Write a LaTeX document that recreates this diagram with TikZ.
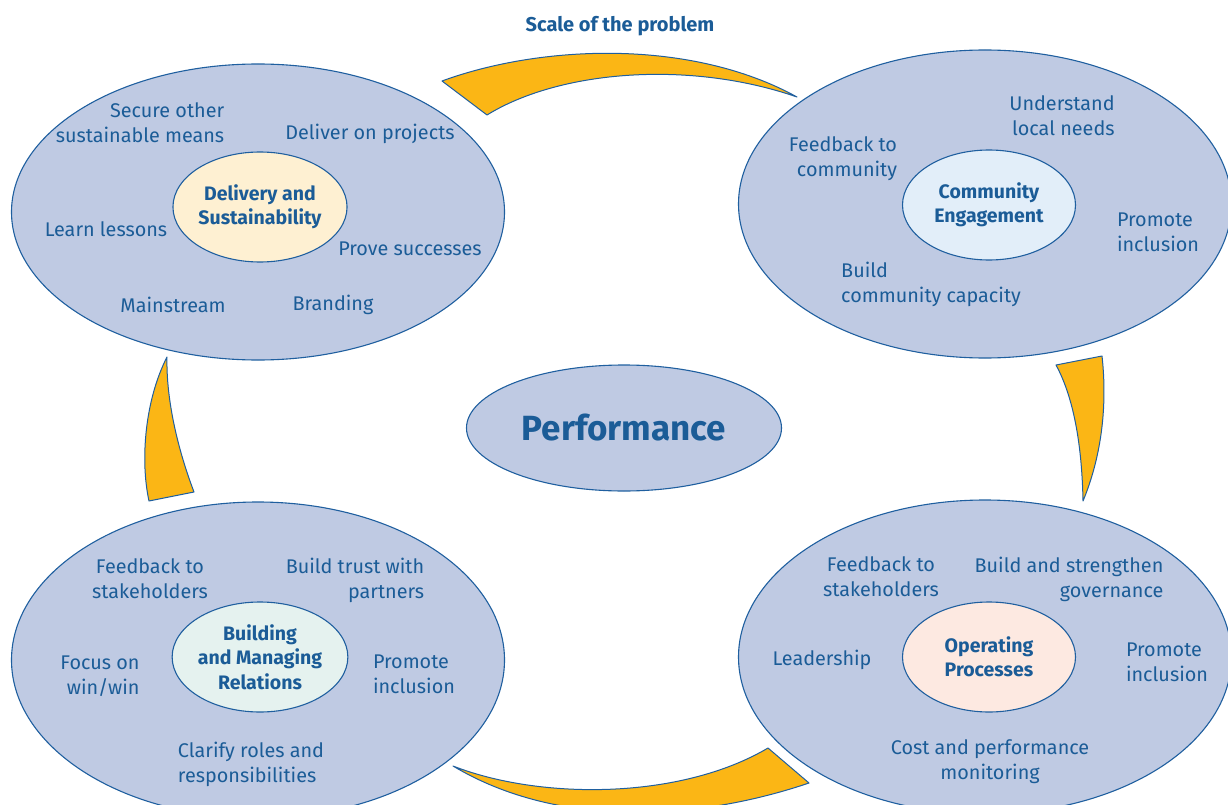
\documentclass[tikz,border=0pt]{standalone}
\usepackage{fontspec}
\setmainfont{Fira Sans}
\usetikzlibrary{shapes.geometric}
\definecolor{ringblue}{HTML}{BFCAE3}
\definecolor{edgeblue}{HTML}{1F5F9F}
\definecolor{textblue}{HTML}{1B5C97}
\definecolor{arrowgold}{HTML}{FBB615}
\definecolor{creamfill}{HTML}{FEF0D2}
\definecolor{skyfill}{HTML}{E2EEF9}
\definecolor{mintfill}{HTML}{E5F2EF}
\definecolor{peachfill}{HTML}{FDE9E1}

\begin{document}
\begin{tikzpicture}[x=1pt, y=-1pt,
  ring/.style={ellipse, draw=edgeblue, line width=1.1pt, fill=ringblue, minimum width=493pt, minimum height=300pt, inner sep=0pt},
  hub/.style={ellipse, draw=edgeblue, line width=1.1pt, minimum width=173pt, minimum height=110pt, inner sep=0pt,
    font=\fontsize{19.5}{24.5}\selectfont\bfseries, text=textblue, align=center},
  lbl/.style={font=\fontsize{19.8}{25}\selectfont, text=textblue, align=center, inner sep=0pt, yshift=-2pt},
  turn/.style={draw=edgeblue, line width=1pt, fill=arrowgold, line join=round}]
\useasboundingbox (0,0) rectangle (1228,805);
\clip (0,0) rectangle (1228,805);

% outer rings
\node[ring, minimum height=296pt] (deliv) at (258,212) {};
\node[ring, minimum height=308pt] (comm) at (985,204) {};
\node[ring, minimum height=316pt] (relat) at (258,660) {};
\node[ring, minimum height=314pt] (oper) at (985,657) {};
\node[ellipse, draw=edgeblue, line width=1.1pt, fill=ringblue, minimum width=315pt, minimum height=126pt, inner sep=0pt,
  font=\fontsize{35}{40}\selectfont\bfseries, text=textblue] (perf) at (624,428) {Performance};

% hubs
\node[hub, fill=creamfill] (delivhub) at (260,207) {Delivery and\\Sustainability};
\node[hub, fill=skyfill] (commhub) at (989,205) {Community\\Engagement};
\node[hub, fill=mintfill] (relathub) at (260,657) {Building\\and Managing\\Relations};
\node[hub, fill=peachfill] (operhub) at (989,657) {Operating\\Processes};

% delivery labels
\node[lbl, align=right] (secure) at (140,121) {Secure other\\sustainable means};
\node[lbl] (projects) at (370,132) {Deliver on projects};
\node[lbl] (lessons) at (106,227) {Learn lessons};
\node[lbl] (prove) at (410,247) {Prove successes};
\node[lbl] (mainstr) at (173,303) {Mainstream};
\node[lbl] (brand) at (333,303) {Branding};

% community labels
\node[lbl, align=right] (needs) at (1062,114) {Understand\\local needs};
\node[lbl, align=right] (fbcomm) at (843,157) {Feedback to\\community};
\node[lbl, align=left] (inclA) at (1158,230) {Promote\\inclusion};
\node[lbl, align=left] (capac) at (931,282) {Build\\community capacity};

% relations labels
\node[lbl] (fbstakeA) at (150,577) {Feedback to\\stakeholders};
\node[lbl, align=right] (trust) at (355,578) {Build trust with\\partners};
\node[lbl, align=right] (winwin) at (100,674) {Focus on\\win/win};
\node[lbl, align=left] (inclB) at (414,672) {Promote\\inclusion};
\node[lbl, align=left] (roles) at (251,762) {Clarify roles and\\responsibilities};

% operating labels
\node[lbl] (fbstakeB) at (881,575) {Feedback to\\stakeholders};
\node[lbl, align=right] (govern) at (1069,577) {Build and strengthen\\governance};
\node[lbl] (lead) at (822,658) {Leadership};
\node[lbl, align=left] (inclC) at (1167,660) {Promote\\inclusion};
\node[lbl] (monitor) at (990,760) {Cost and performance\\monitoring};

\node[font=\fontsize{20}{24}\selectfont\bfseries, text=textblue] (scale) at (620,26) {Scale of the problem};

% curved arrows between the rings
\draw[turn] (442,81) .. controls (540,45) and (690,38) .. (797,97)
  .. controls (690,60) and (560,70) .. (487,115) -- cycle;
\draw[turn] (1056,365) -- (1102,356) .. controls (1108,410) and (1100,460) .. (1083,501)
  .. controls (1082,450) and (1075,400) .. (1056,365) -- cycle;
\draw[turn] (453,766) .. controls (540,800) and (680,800) .. (768,748) -- (809,783)
  .. controls (700,820) and (560,830) .. (453,766) -- cycle;
\draw[turn] (167,357) .. controls (145,400) and (140,460) .. (149,501) -- (194,492)
  .. controls (178,450) and (166,400) .. (167,357) -- cycle;
\end{tikzpicture}
\end{document}
